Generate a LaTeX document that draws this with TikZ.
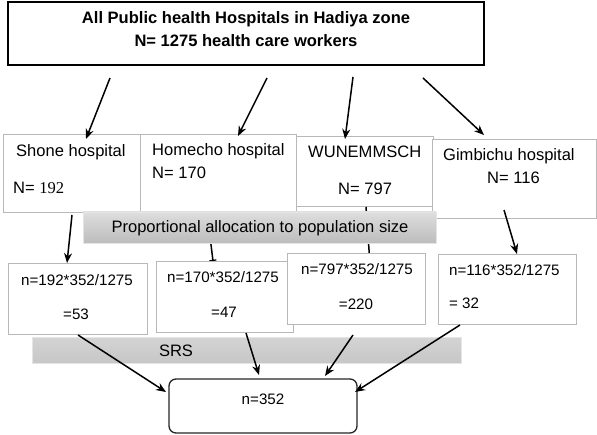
\documentclass[tikz,border=0pt]{standalone}
\usepackage{fontspec}
\setmainfont{Liberation Sans}
\newfontfamily\serifnum{Liberation Serif}
\usetikzlibrary{arrows.meta}
\begin{document}
\begin{tikzpicture}[x=1bp,y=-1bp,
  box/.style={draw=black!28, line width=1bp, fill=white, anchor=north west, inner sep=0, outer sep=0},
  arr/.style={-{Stealth[length=10bp,width=8bp]}, line width=1.5bp},
  lab/.style={inner sep=0, font=\fontsize{16.6}{20}\selectfont},
  clab/.style={inner sep=0, font=\fontsize{15.2}{18}\selectfont},
  bar/.style={anchor=north west, inner sep=0, outer sep=0, draw=black!10, line width=0.8bp, top color=black!13, bottom color=black!26},
]
\useasboundingbox (0,0) rectangle (597,435);

% hospital boxes
\node[box, minimum width=137bp, minimum height=78bp] (shone) at (3,135) {};
\node[box, minimum width=156bp, minimum height=77bp] (homecho) at (140,135) {};
\node[box, minimum width=137bp, minimum height=70bp] (wunem) at (296,137) {};
\node[box, minimum width=164bp, minimum height=79bp] (gimb) at (432,140) {};

\node[lab, anchor=west] (t1) at (16,152) {Shone hospital};
\node[lab, anchor=west] (t1n) at (13,188) {N= {\serifnum 192}};
\node[lab, anchor=west] (t2) at (152,151) {Homecho hospital};
\node[lab, anchor=west] (t2n) at (152,173) {N= 170};
\node[lab, anchor=west] (t3) at (308,152) {WUNEMMSCH};
\node[lab, anchor=west] (t3n) at (338,189) {N= 797};
\node[lab, anchor=west] (t4) at (443,156) {Gimbichu hospital};
\node[lab, anchor=west] (t4n) at (487,178) {N= 116};

% top box
\node[box, draw=black, line width=1.3bp, minimum width=476bp, minimum height=63bp] (top) at (8,2) {};
\node[inner sep=0, align=center, font=\fontsize{16.6}{23}\selectfont\bfseries] (title) at (246,29)
  {All Public health Hospitals in Hadiya zone\\N= 1275 health care workers};

% top arrows
\draw[arr] ([shift={(102,13)}]top.south west) -- ([shift={(83,4)}]shone.north west);
\draw[arr] ([shift={(259,13)}]top.south west) -- ([shift={(98,1)}]homecho.north west);
\draw[arr] ([shift={(345,12)}]top.south west) -- ([shift={(49,2)}]wunem.north west);
\draw[arr] ([shift={(415,13)}]top.south west) -- ([shift={(52,-5)}]gimb.north west);

% calc boxes (coordinates of their corners for the mid arrows)
\coordinate (c1nw) at (8,264);
\coordinate (c2nw) at (156,262);
\coordinate (c3nw) at (287,254);
\coordinate (c4nw) at (438,255);

% mid arrows
\draw[arr] ([shift={(69,2)}]shone.south west) -- ([shift={(59,-1)}]c1nw);
\draw[line width=1.5bp, -{Bar[width=7bp,line width=1.3bp]}] ([shift={(67,0)}]homecho.south west) -- ([shift={(57,-1)}]c2nw);
\draw[arr] ([shift={(70,0)}]wunem.south west) -- ([shift={(83,10)}]c3nw);
\draw[arr] ([shift={(72,-9)}]gimb.south west) -- ([shift={(79,-1)}]c4nw);

% proportional bar
\node[bar, minimum width=353bp, minimum height=31bp] (prop) at (83,212) {};
\node[lab] (proptext) at (260,228) {Proportional allocation to population size};

% calc boxes
\node[box, minimum width=139bp, minimum height=70bp] (calc1) at (c1nw) {};
\node[box, minimum width=137bp, minimum height=70bp] (calc2) at (c2nw) {};
\node[box, minimum width=138bp, minimum height=70bp] (calc3) at (c3nw) {};
\node[box, minimum width=138bp, minimum height=69bp] (calc4) at (c4nw) {};

\node[clab] (k1) at (77,280) {n=192*352/1275};
\node[clab] (k1n) at (76,314) {=53};
\node[clab] (k2) at (223,277) {n=170*352/1275};
\node[clab] (k2n) at (224,312) {=47};
\node[clab] (k3) at (357,269) {n=797*352/1275};
\node[clab] (k3n) at (356,304) {=220};
\node[clab, anchor=west] (k4) at (449,270) {n=116*352/1275};
\node[clab, anchor=west] (k4n) at (449,303) {= 32};

% SRS bar
\node[bar, top color=black!17, bottom color=black!22, minimum width=429bp, minimum height=26bp] (srs) at (32,337) {};
\node[lab] (srstext) at (176,351) {SRS};

% final box
\node[draw=black!85, line width=1.3bp, rounded corners=7bp, fill=white, anchor=north west, inner sep=0, outer sep=0,
      minimum width=188bp, minimum height=54bp] (final) at (169,379) {};
\node[clab] (ftext) at (263,399) {n=352};

% bottom arrows
\draw[arr] ([shift={(70,1)}]calc1.south west) -- ([shift={(-3,13)}]final.north west);
\draw[arr] ([shift={(90,1)}]calc2.south west) -- ([shift={(90,-4)}]final.north west);
\draw[arr] ([shift={(66,11)}]calc3.south west) -- ([shift={(156,-3)}]final.north west);
\draw[arr] ([shift={(22,1)}]calc4.south west) -- ([shift={(-2,13)}]final.north east);
\end{tikzpicture}
\end{document}
